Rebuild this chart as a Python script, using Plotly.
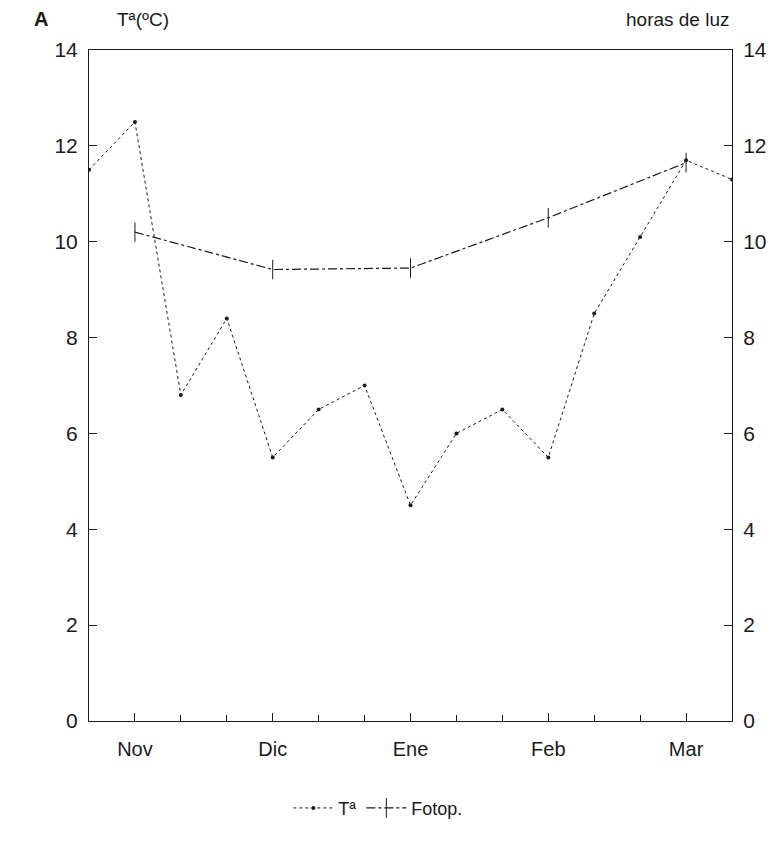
import plotly.graph_objects as go

# x positions: 0..14, one unit = 1/3 month (10 days); Nov=1, Dic=4, Ene=7, Feb=10, Mar=13
month_pos = [1, 4, 7, 10, 13]
month_labels = ["Nov", "Dic", "Ene", "Feb", "Mar"]

temp_x = list(range(0, 15))
temp_y = [11.5, 12.5, 6.8, 8.4, 5.5, 6.5, 7.0, 4.5, 6.0, 6.5, 5.5, 8.5, 10.1, 11.7, 11.3]

foto_x = [1, 4, 7, 10, 13]
foto_y = [10.2, 9.42, 9.45, 10.5, 11.65]

ink = "#1a1a1a"
font_family = "Liberation Sans, Arial, sans-serif"

fig = go.Figure()
fig.add_trace(go.Scatter(
    x=temp_x, y=temp_y, name="Tª", mode="lines+markers",
    line=dict(color=ink, width=1, dash="dot"),
    marker=dict(symbol="circle", size=4, color=ink),
))
fig.add_trace(go.Scatter(
    x=foto_x, y=foto_y, name="Fotop.", mode="lines+markers", yaxis="y2",
    line=dict(color=ink, width=1.2, dash="dashdot"),
    marker=dict(symbol="line-ns-open", size=14, color=ink, line=dict(width=1, color=ink)),
))

axis_common = dict(
    range=[0, 14], dtick=2, ticks="inside", ticklen=8, tickcolor=ink,
    showline=True, linecolor=ink, linewidth=1, showgrid=False, zeroline=False,
    tickfont=dict(size=21, color=ink, family=font_family),
    ticklabelstandoff=6,
)

fig.update_layout(
    width=776, height=853,
    paper_bgcolor="white", plot_bgcolor="white",
    margin=dict(l=81, r=52, t=42, b=140),
    font=dict(family=font_family, color=ink),
    xaxis=dict(
        range=[0, 14], tickvals=month_pos, ticktext=month_labels,
        ticks="inside", ticklen=8, tickcolor=ink,
        minor=dict(dtick=1, tick0=0, ticks="inside", ticklen=6, tickcolor=ink),
        showline=True, mirror=True, linecolor=ink, linewidth=1,
        showgrid=False, zeroline=False,
        tickfont=dict(size=20, color=ink, family=font_family),
        ticklabelstandoff=10,
    ),
    yaxis=dict(**axis_common),
    yaxis2=dict(**axis_common, overlaying="y", side="right"),
    legend=dict(
        orientation="h", x=0.45, xanchor="center", y=-0.13, yanchor="middle",
        font=dict(size=18, color=ink, family=font_family),
        itemwidth=40,
    ),
)
fig.add_annotation(text="<b>A</b>", xref="paper", yref="paper",
                   x=-0.075, y=1.046, xanchor="center", yanchor="middle",
                   showarrow=False, font=dict(size=20, color=ink))
fig.add_annotation(text="Tª(ºC)", xref="paper", yref="paper",
                   x=0.04, y=1.046, xanchor="left", yanchor="middle",
                   showarrow=False, font=dict(size=19, color=ink))
fig.add_annotation(text="horas de luz", xref="paper", yref="paper",
                   x=1.0, y=1.046, xanchor="right", yanchor="middle",
                   showarrow=False, font=dict(size=19, color=ink))

fig.write_html("out.html")
